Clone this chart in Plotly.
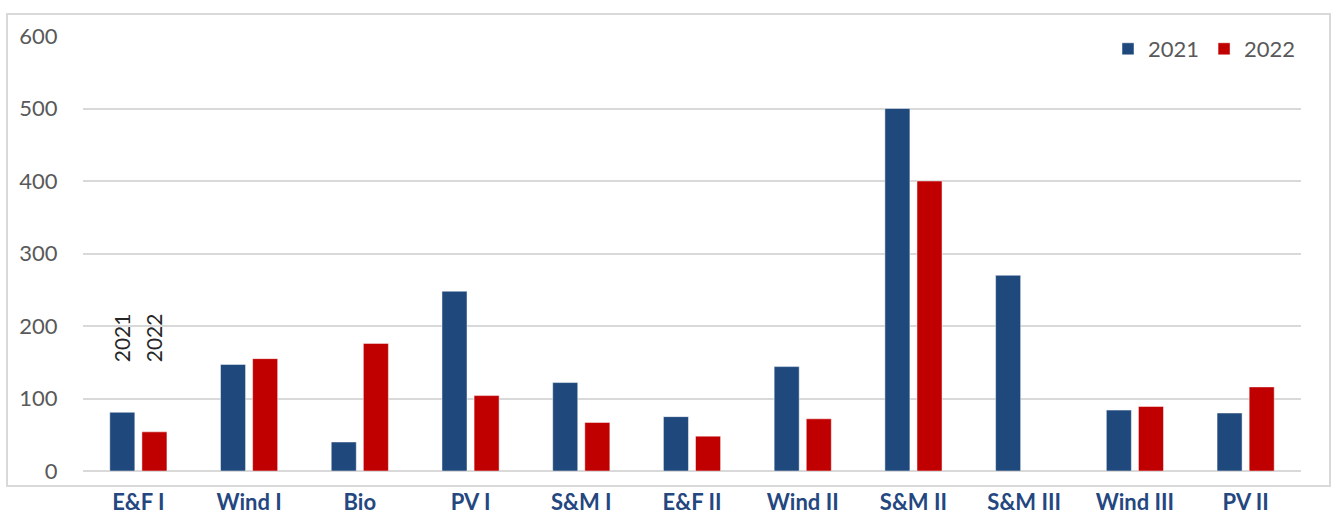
import plotly.graph_objects as go

# Programmes and yearly values
categories = ["E&F I", "Wind I", "Bio", "PV I", "S&M I", "E&F II",
              "Wind II", "S&M II", "S&M III", "Wind III", "PV II"]
values_2021 = [81, 147, 40, 248, 122, 75, 144, 500, 270, 84, 80]
values_2022 = [54, 155, 176, 104, 67, 48, 72, 400, None, 89, 116]
series_names = ["2021", "2022"]
y_ticks = [0, 100, 200, 300, 400, 500, 600]

BLUE = "#1F497D"
RED = "#C00000"
GRID = "#D9D9D9"

W, H = 1333, 515
ML, MR, MT, MB = 83, 32, 36, 44
plot_w = W - ML - MR
plot_h = H - MT - MB

fig = go.Figure()
for name, vals, col in [(series_names[0], values_2021, BLUE),
                        (series_names[1], values_2022, RED)]:
    fig.add_trace(go.Bar(
        x=categories, y=vals, name=name,
        marker=dict(color=col, line=dict(color="rgba(255,255,255,0.6)", width=0.8)),
    ))

# Rotated series labels above the first group
for name, shift in [(series_names[0], -16), (series_names[1], 16)]:
    fig.add_annotation(
        x=categories[0], y=147, xref="x", yref="y", xshift=shift,
        text=name, showarrow=False, textangle=-90,
        yanchor="bottom", xanchor="center",
        font=dict(family="Lato, Liberation Sans, sans-serif", size=21, color="#262626"),
    )

# Outer chart frame
def px_to_paper_x(px):
    return (px - ML) / plot_w

def px_to_paper_y(py):
    return (H - MB - py) / plot_h

fig.add_shape(
    type="rect", xref="paper", yref="paper",
    x0=px_to_paper_x(7), x1=px_to_paper_x(1330),
    y0=px_to_paper_y(486), y1=px_to_paper_y(14),
    line=dict(color=GRID, width=2), fillcolor="rgba(0,0,0,0)", layer="below",
)

fig.update_layout(
    width=W, height=H,
    margin=dict(l=ML, r=MR, t=MT, b=MB, autoexpand=False),
    paper_bgcolor="white", plot_bgcolor="white",
    barmode="group", bargap=0.42, bargroupgap=0.22,
    showlegend=True,
    legend=dict(
        orientation="h", x=1.0, xanchor="right", y=px_to_paper_y(49), yanchor="middle",
        font=dict(family="Lato, Liberation Sans, sans-serif", size=22, color="#595959"),
        bgcolor="rgba(255,255,255,0)", itemwidth=30, traceorder="normal",
    ),
    xaxis=dict(
        type="category", showgrid=False, showline=False, zeroline=False,
        automargin=False,
        ticks="outside", ticklen=12, tickcolor="rgba(0,0,0,0)",
        tickfont=dict(family="Lato, Liberation Sans, sans-serif", size=22,
                      color="#24477F", weight="bold"),
    ),
    yaxis=dict(
        range=[0, 600], tickvals=y_ticks, showgrid=True, gridcolor=GRID,
        gridwidth=1.5, zeroline=True, zerolinecolor=GRID, zerolinewidth=1.5,
        showline=False, automargin=False,
        ticks="outside", ticklen=20, tickcolor="rgba(0,0,0,0)",
        tickfont=dict(family="Lato, Liberation Sans, sans-serif", size=22, color="#595959"),
    ),
)

fig.write_html("out.html")
